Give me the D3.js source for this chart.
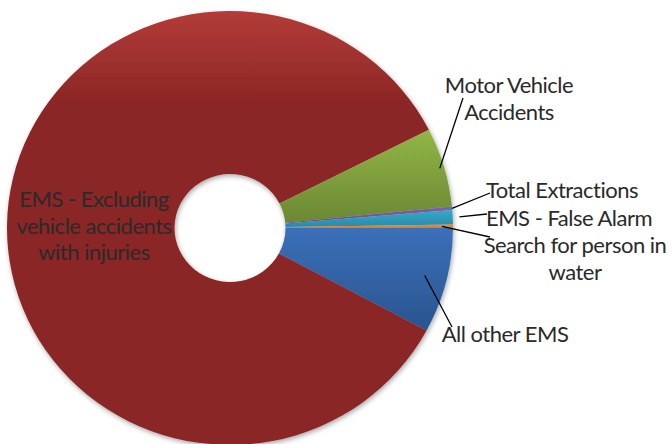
<!DOCTYPE html>
<html>
<head>
<meta charset="utf-8">
<script src="https://cdn.jsdelivr.net/npm/d3@7"></script>
<style>
  html, body { margin: 0; padding: 0; background: #fff; }
  svg text { font-family: Lato, "Open Sans", sans-serif; fill: #2a2a2a; }
</style>
</head>
<body>
<svg id="chart" width="672" height="444"></svg>
<script>
// slices in drawing order (clockwise from the first slice angle)
let categories = ["All other EMS", "EMS - Excluding vehicle accidents with injuries",
    "Motor Vehicle Accidents", "Total Extractions", "EMS - False Alarm", "Search for person in water"];
let values = [392, 4240, 295, 13, 53, 13];
let labelLines = [
    ["All other EMS"],
    ["EMS - Excluding", "vehicle accidents", "with injuries"],
    ["Motor Vehicle", "Accidents"],
    ["Total Extractions"],
    ["EMS - False Alarm"],
    ["Search for person in", "water"]
];

let topColors = ["#3b70ba", "#b23c37", "#92b647", "#8161a8", "#36a9cb", "#f08d33"];
let bottomColors = ["#29548e", "#8a2525", "#6b8833", "#6a4a90", "#2a8aa8", "#e0781f"];

// layout: label centre / first baseline, leader end and how far into the slice it starts
let labelLayout = [
    { x: 505, y: 342, lx: 452, ly: 327, r: 0.9 },
    { x: 94, y: 207, lx: null },
    { x: 509, y: 93, lx: 463, ly: 98, r: 0.98 },
    { x: 562, y: 198, lx: 490, ly: 193, r: 1.0 },
    { x: 569, y: 226, lx: 487, ly: 214, r: 1.03 },
    { x: 575, y: 253, lx: 490, ly: 237, r: 0.95 }
];

let cx = 230, cy = 228, rx = 223, ry = 217;
let innerR = 55.5;
let lineH = 26.5;

let svg = d3.select("#chart");
let defs = svg.append("defs");

let shadow = defs.append("filter")
    .attr("id", "shadow")
    .attr("x", "-10%").attr("y", "-10%")
    .attr("width", "120%").attr("height", "120%");
shadow.append("feDropShadow")
    .attr("dx", 1).attr("dy", 2)
    .attr("stdDeviation", 2.5)
    .attr("flood-color", "#000")
    .attr("flood-opacity", 0.35);

categories.forEach((c, i) => {
    let g = defs.append("linearGradient")
        .attr("id", "grad" + i)
        .attr("x1", 0).attr("y1", 0).attr("x2", 0).attr("y2", 1);
    g.append("stop").attr("offset", "0%").attr("stop-color", topColors[i]);
    g.append("stop").attr("offset", i == 1 ? "22%" : "100%").attr("stop-color", bottomColors[i]);
    if (i == 1) g.append("stop").attr("offset", "100%").attr("stop-color", bottomColors[i]);
});

let pie = d3.pie()
    .sort(null)
    .startAngle(Math.PI / 2)
    .endAngle(Math.PI / 2 + 2 * Math.PI);

let arcs = pie(values);

let arc = d3.arc()
    .innerRadius(innerR)
    .outerRadius(rx);

let ring = svg.append("g")
    .attr("filter", "url(#shadow)")
    .append("g")
    .attr("transform", `translate(${cx},${cy}) scale(1,${ry / rx})`);

ring.selectAll(".slice")
    .data(arcs)
    .enter()
    .append("path")
    .classed("slice", true)
    .attr("d", arc)
    .attr("fill", (d, i) => `url(#grad${i})`);

// point on the (elliptical) ring at the slice's middle angle
function ringPoint(d, k) {
    let a = (d.startAngle + d.endAngle) / 2;
    return [cx + Math.sin(a) * rx * k, cy - Math.cos(a) * ry * k];
}

let leaders = svg.append("g");
arcs.forEach((d, i) => {
    let lay = labelLayout[i];
    if (lay.lx == null) return;
    let p = ringPoint(d, lay.r);
    leaders.append("line")
        .attr("x1", p[0]).attr("y1", p[1])
        .attr("x2", lay.lx).attr("y2", lay.ly)
        .attr("stroke", "#000")
        .attr("stroke-width", 1.3);
});

let labels = svg.append("g");
labelLines.forEach((lines, i) => {
    let lay = labelLayout[i];
    let t = labels.append("text")
        .attr("text-anchor", "middle")
        .attr("font-size", 22)
        .attr("letter-spacing", -0.5);
    lines.forEach((s, j) => {
        t.append("tspan")
            .attr("x", lay.x)
            .attr("y", lay.y + j * lineH)
            .text(s);
    });
});
</script>
</body>
</html>
